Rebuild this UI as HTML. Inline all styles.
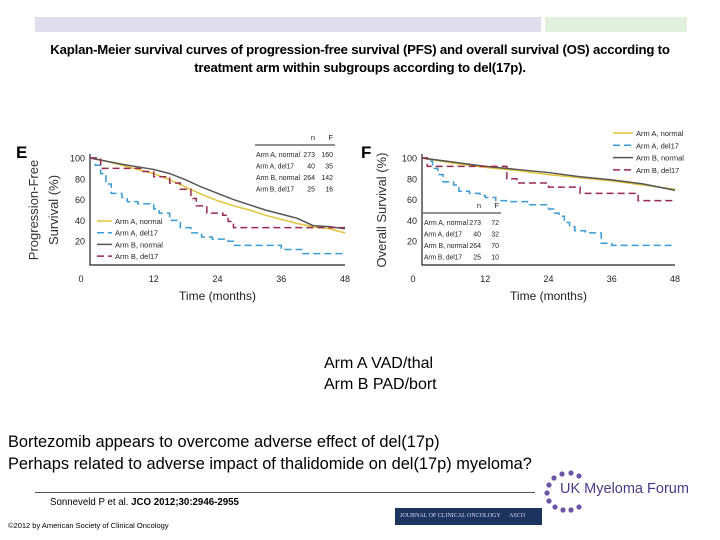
<!DOCTYPE html>
<html><head><meta charset="utf-8"><style>
body{margin:0;background:#fff;}
#root{position:relative;width:720px;height:540px;overflow:hidden;font-family:"Liberation Sans",sans-serif;}
.t{position:absolute;white-space:nowrap;}
</style></head><body>
<div id="root">
<div style="position:absolute;left:35px;top:17px;width:506px;height:15px;background:#e0ddef"></div>
<div style="position:absolute;left:545px;top:17px;width:142px;height:15px;background:#e2efdc"></div>
<div class="t" style="left:0;width:720px;top:41px;text-align:center;font-size:13.2px;font-weight:bold;line-height:18px;letter-spacing:-0.2px">Kaplan-Meier survival curves of progression-free survival (PFS) and overall survival (OS) according to<br>treatment arm within subgroups according to del(17p).</div>
<svg id="chart" width="720" height="310" style="position:absolute;left:0;top:0"></svg>
<div class="t" style="left:324px;top:355px;font-size:16px">Arm A VAD/thal</div>
<div class="t" style="left:324px;top:376px;font-size:16px">Arm B PAD/bort</div>
<div class="t" style="left:8px;top:433px;font-size:16.4px">Bortezomib appears to overcome adverse effect of del(17p)</div>
<div class="t" style="left:8px;top:455px;font-size:16.4px">Perhaps related to adverse impact of thalidomide on del(17p) myeloma?</div>
<div style="position:absolute;left:35px;top:492px;width:500px;height:1px;background:#555"></div>
<div class="t" style="left:50px;top:497px;font-size:9.7px">Sonneveld P et al. <b>JCO 2012;30:2946-2955</b></div>
<div class="t" style="left:8px;top:521px;font-size:7.5px">©2012 by American Society of Clinical Oncology</div>
<div style="position:absolute;left:395px;top:508px;width:147px;height:17px;background:#1d3461;color:#dde;font-family:'Liberation Serif',serif;font-size:6px;line-height:17px;text-indent:5px;overflow:hidden;white-space:nowrap">JOURNAL OF CLINICAL ONCOLOGY &nbsp;&nbsp;&nbsp;&nbsp; ASCO</div>
<svg width="60" height="60" style="position:absolute;left:538px;top:460px">
<g fill="#6a55a8">
<circle cx="24" cy="14" r="2.6"/><circle cx="33" cy="13" r="2.6"/><circle cx="41" cy="16" r="2.6"/><circle cx="16" cy="18" r="2.6"/><circle cx="11" cy="25" r="2.6"/><circle cx="9" cy="33" r="2.6"/><circle cx="11" cy="41" r="2.6"/><circle cx="17" cy="47" r="2.6"/><circle cx="25" cy="50" r="2.6"/><circle cx="33" cy="50" r="2.6"/><circle cx="41" cy="47" r="2.6"/>
</g></svg>
<div class="t" style="left:560px;top:481px;font-size:14.5px;color:#4b3a8a">UK Myeloma Forum</div>
</div>
<script>
const months=[0,12,24,36,48];
const yTicks=[20,40,60,80,100];
const seriesNames=["Arm A, normal","Arm A, del17","Arm B, normal","Arm B, del17"];
const pfsANormal=[[0,100],[3,97],[6,93],[9,89],[12,85],[15,79],[18,72],[21,65],[24,59],[27,54],[30,50],[33,45],[36,41],[39,37],[42,34],[45,32],[48,28]];
const pfsADel=[[0,100],[1,93],[2,85],[3,75],[4,66],[6,62],[7,58],[9,56],[12,51],[13,47],[15,40],[17,33],[19,28],[21,24],[23,22],[26,20],[27,16],[36,12],[40,8],[48,8]];
const pfsBNormal=[[0,100],[6,94],[12,89],[15,85],[18,79],[21,72],[24,66],[27,60],[30,55],[33,50],[36,46],[39,42],[42,35],[45,34],[48,32]];
const pfsBDel=[[0,100],[2,90],[10,87],[12,82],[15,76],[17,70],[19,61],[20,54],[22,47],[25,45],[26,39],[27,33],[48,33]];
const osANormal=[[0,100],[6,95],[12,91],[18,88],[24,84],[30,81],[36,78],[42,74],[48,70]];
const osADel=[[0,100],[1,97],[2,90],[3,84],[4,77],[6,74],[7,68],[9,66],[11,64],[12,62],[14,59],[16,58],[20,55],[24,51],[25,47],[26,44],[27,38],[28,34],[29,30],[31,28],[34,18],[36,16],[48,16]];
const osBNormal=[[0,100],[6,96],[12,92],[18,89],[24,86],[30,82],[36,79],[42,75],[48,69]];
const osBDel=[[0,100],[1,92],[16,92],[16.1,80],[18,76],[24,72],[30,66],[41,59],[48,59]];
const pfsTable=[["Arm A, normal","273","160"],["Arm A, del17","40","35"],["Arm B, normal","264","142"],["Arm B, del17","25","16"]];
const osTable=[["Arm A, normal","273","72"],["Arm A, del17","40","32"],["Arm B, normal","264","70"],["Arm B, del17","25","10"]];

const NS="http://www.w3.org/2000/svg";
const svg=document.getElementById('chart');
const colors=["#e3c43a","#3a9ad6","#555555","#9a2a4a"];
const dashes=[null,"7,4",null,"7,4"];
function el(tag,attrs,parent){const e=document.createElementNS(NS,tag);for(const k in attrs)e.setAttribute(k,attrs[k]);(parent||svg).appendChild(e);return e;}
function txt(x,y,s,size,anchor,parent){const t=el('text',{x:x,y:y,'font-size':size,'text-anchor':anchor||'start','font-family':'Liberation Sans, sans-serif',fill:'#222'},parent);t.textContent=s;return t;}

function panel(x0,x1,name,series,letter,letterX,ytitle,legendPos,table,tablePos){
  const y0=262,y100=158;
  const sx=m=>x0+(x1-x0)*m/48;
  const sy=v=>y0+(y100-y0)*v/100;
  const g=el('g',{});
  
  
  const ax=el('path',{d:`M${x0},${y100-4}V265H${x1}`,stroke:'#222','stroke-width':1.2,fill:'none'},g);
  
  
  months.forEach(m=>{
    const t=txt(m===0?x0-9:sx(m),282,String(m),9,'middle',g);
    
    
  });
  yTicks.forEach(v=>{
    const t=txt(x0-5,sy(v)+3.5,String(v),9,'end',g);
    
    
  });
  const xt=txt((x0+x1)/2,300,'Time (months)',12,'middle',g);
  
  
  const lt=el('text',{x:letterX,y:158,'font-size':17,'font-weight':'bold','font-family':'Liberation Sans, sans-serif'},g);
  lt.textContent=letter;
  
  
  ytitle.forEach((s,i)=>{
    const cx=ytitle.length===1?x0-36:x0-52+i*20;
    const t=el('text',{x:cx,y:210,'font-size':13,'text-anchor':'middle','font-family':'Liberation Sans, sans-serif',transform:`rotate(-90 ${cx} 210)`,fill:'#333'},g);
    t.textContent=s;
    
    
  });
  series.forEach((pts,i)=>{
    let d=`M${sx(pts[0][0])},${sy(pts[0][1])}`;
    for(let k=1;k<pts.length;k++){
      const sm=(i===0||i===2);
      if(sm)d+=`L${sx(pts[k][0])},${sy(pts[k][1])}`;
      else d+=`H${sx(pts[k][0])}V${sy(pts[k][1])}`;
    }
    const attrs={d:d,stroke:colors[i],'stroke-width':1.5,fill:'none'};
    if(dashes[i])attrs['stroke-dasharray']=dashes[i];
    const p=el('path',attrs,g);
    
    
  });
  seriesNames.forEach((s,i)=>{
    const lx=legendPos[0],ly=legendPos[1]+i*legendPos[2];
    const attrs={x1:lx,y1:ly,x2:lx+legendPos[3],y2:ly,stroke:colors[i],'stroke-width':1.5};
    if(dashes[i])attrs['stroke-dasharray']=dashes[i];
    const l=el('line',attrs,g);
    
    
    const t=txt(lx+legendPos[3]+3,ly+3,s,7.5,'start',g);
    
    
  });
  const [tx,ty,tw]=tablePos;
  const h1=txt(tx+tw-20,ty,'n',7.5,'end',g);
  const h2=txt(tx+tw-2,ty,'F',7.5,'end',g);
  const tl=el('line',{x1:tx,y1:ty+5,x2:tx+tw,y2:ty+5,stroke:'#222','stroke-width':1},g);
  
  table.forEach((r,i)=>{
    const yy=ty+17+i*11.5;
    const a=txt(tx+1,yy,r[0],7,'start',g);a.setAttribute('textLength',r[0].length>12?44:38);a.setAttribute('lengthAdjust','spacingAndGlyphs');
    
    const b=txt(tx+tw-20,yy,r[1],7,'end',g);
    const c=txt(tx+tw-2,yy,r[2],7,'end',g);
  });
}
panel(90,345,'pfs-panel',[pfsANormal,pfsADel,pfsBNormal,pfsBDel],'E',16,['Progression-Free','Survival (%)'],[97,221,11.7,15],pfsTable,[255,140,80]);
panel(422,675,'os-panel',[osANormal,osADel,osBNormal,osBDel],'F',361,['Overall Survival (%)'],[613,133,12.3,20],osTable,[423,208,78]);
</script>
</body></html>
